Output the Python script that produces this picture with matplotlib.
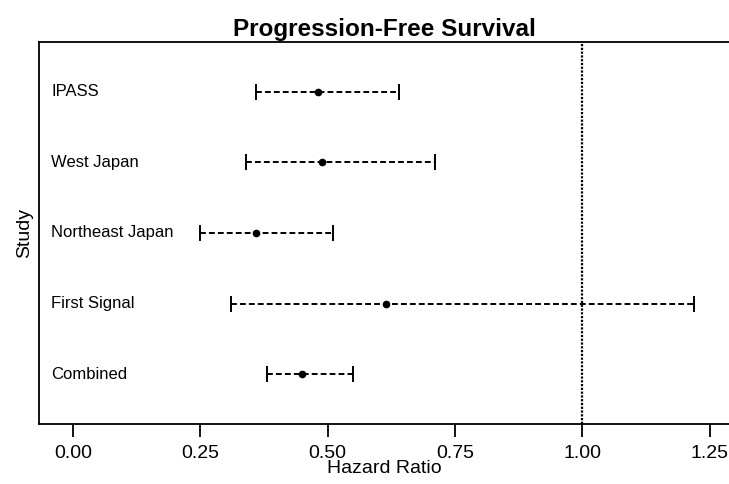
import numpy as np
import matplotlib.pyplot as plt
from matplotlib.transforms import blended_transform_factory

plt.rcParams['font.family'] = ['Liberation Sans', 'DejaVu Sans']

STUDIES = ['IPASS', 'West Japan', 'Northeast Japan', 'First Signal', 'Combined']
HR = [0.48, 0.489, 0.36, 0.614, 0.45]
LOW = [0.36, 0.34, 0.25, 0.31, 0.38]
HIGH = [0.64, 0.71, 0.51, 1.22, 0.55]
XTICKS = [0.0, 0.25, 0.5, 0.75, 1.0, 1.25]

fig = plt.figure(figsize=(7.29, 4.84), dpi=100)
ax = fig.add_axes([39 / 729, 60 / 484, 690 / 729, 382 / 484])

ypos = np.arange(len(STUDIES))[::-1]
hr = np.array(HR)
xerr = np.vstack([hr - np.array(LOW), np.array(HIGH) - hr])
eb = ax.errorbar(hr, ypos, xerr=xerr, fmt='o', color='black', ms=4.5,
                 elinewidth=1.4, capsize=6, capthick=1.4)
eb[2][0].set_linestyle((0, (3, 1.6)))

ax.axvline(1.0, color='black', lw=1.6, ls=(0, (1, 0.7)))

trans = blended_transform_factory(ax.transAxes, ax.transData)
for (name, y) in zip(STUDIES, ypos):
    ax.text(0.018, y, name, transform=trans, ha='left', va='center',
            fontsize=12)

ax.set_xlim(-0.067, 1.288)
ax.set_ylim(-0.707, 4.707)
ax.set_xticks(XTICKS)
ax.set_xticklabels(['%.2f' % t for t in XTICKS])
ax.set_yticks([])
ax.spines['right'].set_visible(False)
for s in ('left', 'top', 'bottom'):
    ax.spines[s].set_linewidth(1.3)
ax.tick_params(axis='x', length=9, width=1.3, pad=6, labelsize=14)
ax.set_xlabel('Hazard Ratio', fontsize=14, labelpad=-1)
ax.set_ylabel('Study', fontsize=14, labelpad=4)
ax.set_title('Progression-Free Survival', fontsize=17.5, fontweight='bold', pad=4.5)

fig.savefig('out.png', dpi=100)
